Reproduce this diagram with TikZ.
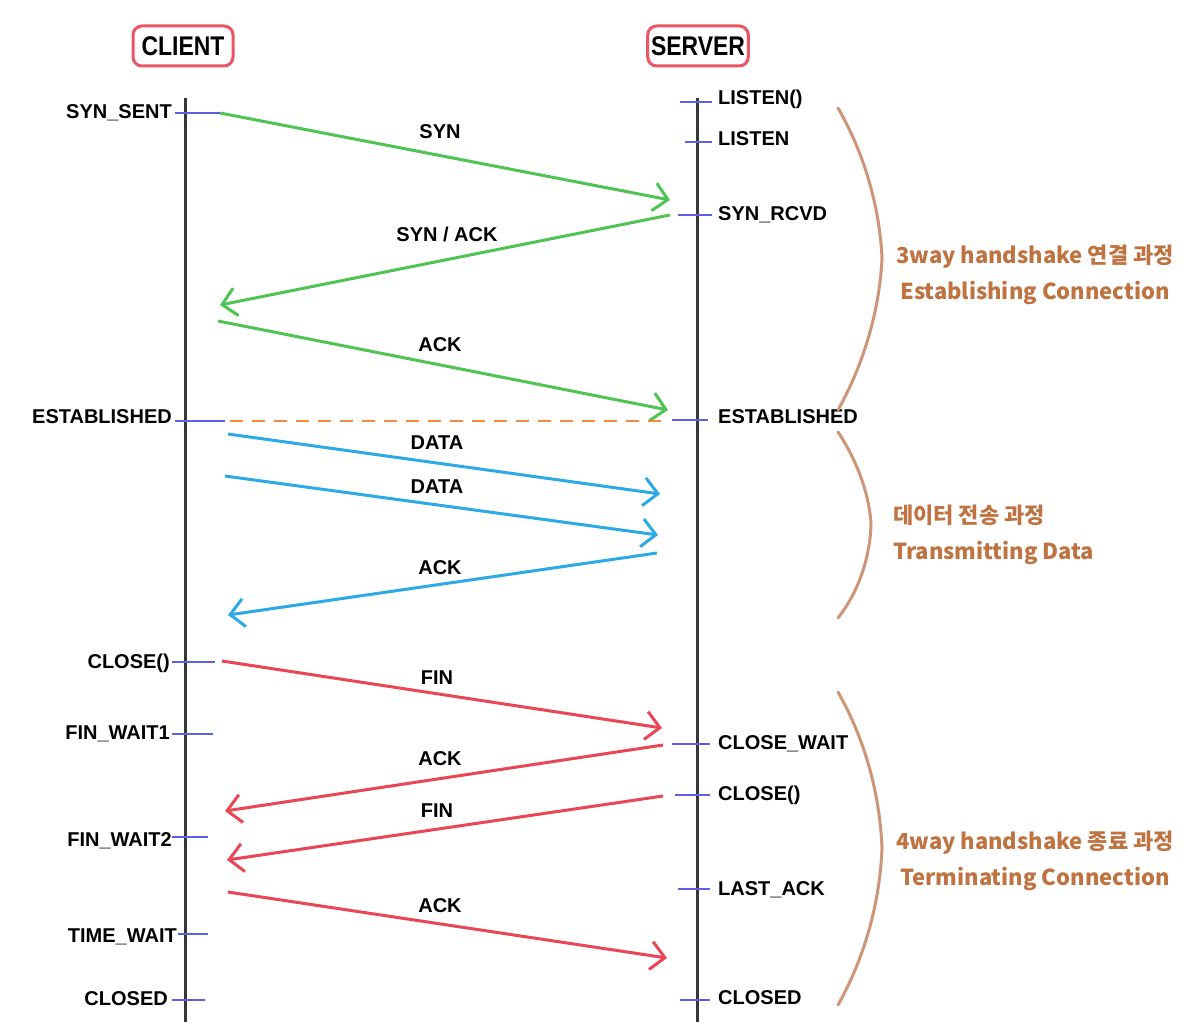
\documentclass[tikz,border=0pt]{standalone}
\usepackage{fontspec}
\setmainfont{Liberation Sans}
\newfontfamily\kr{Noto Sans CJK KR}
\newfontfamily\hdr[FakeStretch=0.85]{Liberation Sans}
\usetikzlibrary{arrows.meta}
\definecolor{lifegray}{RGB}{55,55,55}
\definecolor{tickblue}{RGB}{95,95,225}
\definecolor{msggreen}{RGB}{80,195,85}
\definecolor{msgblue}{RGB}{45,170,230}
\definecolor{msgred}{RGB}{235,70,85}
\definecolor{estorange}{RGB}{245,140,60}
\definecolor{hdrred}{RGB}{235,85,100}
\definecolor{bracebrown}{RGB}{205,150,120}
\definecolor{notebrown}{RGB}{190,115,65}
\begin{document}
\begin{tikzpicture}[x=1pt,y=-1pt,
  lbl/.style={font=\bfseries\fontsize{20}{24}\selectfont, inner sep=0pt, yshift=-5pt},
  stateL/.style={lbl, anchor=mid east},
  stateR/.style={lbl, anchor=mid west},
  msglbl/.style={lbl, anchor=mid},
  hdrbox/.style={draw=hdrred, line width=3pt, rounded corners=9pt, minimum width=100pt, minimum height=40pt, font=\hdr\bfseries\fontsize{27}{30}\selectfont},
  lifeline/.style={draw=lifegray, line width=3pt},
  tickmark/.style={draw=tickblue, line width=2.5pt},
  msg/.style={line width=3pt, -{Straight Barb[length=14pt,width=28pt]}},
  brace/.style={draw=bracebrown, line width=3pt, line cap=round},
  note/.style={font=\kr\bfseries\fontsize{22}{36}\selectfont, text=notebrown, inner sep=0pt}
]
\useasboundingbox[fill=white] (0,0) rectangle (1182,1022);

% headers
\node[hdrbox] (client) at (183,46) {CLIENT};
\node[hdrbox] (server) at (698,46) {SERVER};

% lifelines
\coordinate (ctop) at (185,98);
\coordinate (cbot) at (185,1022);
\coordinate (stop) at (697,98);
\coordinate (sbot) at (697,1022);
\draw[lifeline] (ctop) -- (cbot);
\draw[lifeline] (stop) -- (sbot);

% client states
\node[stateL] (synsent) at (172,111) {SYN\_SENT};
\node[stateL] (cest) at (172,416) {ESTABLISHED};
\node[stateL] (cclose) at (170,661) {CLOSE()};
\node[stateL] (fw1) at (170,732) {FIN\_WAIT1};
\node[stateL] (fw2) at (172,839) {FIN\_WAIT2};
\node[stateL] (tw) at (177,935) {TIME\_WAIT};
\node[stateL] (cclosed) at (168,998) {CLOSED};
\draw[tickmark] (175,113) -- (220,113);
\draw[tickmark] (175,421) -- (225,421);
\draw[tickmark] (172,662) -- (215,662);
\draw[tickmark] (172,734) -- (213,734);
\draw[tickmark] (172,837) -- (208,837);
\draw[tickmark] (178,934) -- (208,934);
\draw[tickmark] (172,1000) -- (205,1000);

% server states
\node[stateR] (listenf) at (718,97) {LISTEN()};
\node[stateR] (listen) at (718,138) {LISTEN};
\node[stateR] (synrcvd) at (718,213) {SYN\_RCVD};
\node[stateR] (sest) at (718,416) {ESTABLISHED};
\node[stateR] (closewait) at (718,742) {CLOSE\_WAIT};
\node[stateR] (sclose) at (718,793) {CLOSE()};
\node[stateR] (lastack) at (718,888) {LAST\_ACK};
\node[stateR] (sclosed) at (718,997) {CLOSED};
\draw[tickmark] (680,102) -- (712,102);
\draw[tickmark] (685,142) -- (712,142);
\draw[tickmark] (678,215) -- (712,215);
\draw[tickmark] (672,420) -- (708,420);
\draw[tickmark] (672,744) -- (710,744);
\draw[tickmark] (675,795) -- (710,795);
\draw[tickmark] (678,889) -- (710,889);
\draw[tickmark] (680,1000) -- (710,1000);

% message end points
\coordinate (m1a) at (220,113); \coordinate (m1b) at (670,200);
\coordinate (m2a) at (670,215); \coordinate (m2b) at (220,305);
\coordinate (m3a) at (218,321); \coordinate (m3b) at (668,410);
\coordinate (e1a) at (230,421); \coordinate (e1b) at (666,421);
\coordinate (d1a) at (228,434); \coordinate (d1b) at (660,494);
\coordinate (d2a) at (225,476); \coordinate (d2b) at (658,535);
\coordinate (d3a) at (657,553); \coordinate (d3b) at (228,615);
\coordinate (f1a) at (222,661); \coordinate (f1b) at (662,728);
\coordinate (f2a) at (663,745); \coordinate (f2b) at (225,811);
\coordinate (f3a) at (663,796); \coordinate (f3b) at (227,860);
\coordinate (f4a) at (228,892); \coordinate (f4b) at (667,958);

\draw[msg, draw=msggreen] (m1a) -- (m1b);
\draw[msg, draw=msggreen] (m2a) -- (m2b);
\draw[msg, draw=msggreen] (m3a) -- (m3b);
\draw[draw=estorange, line width=2.5pt, dash pattern=on 13pt off 9pt] (e1a) -- (e1b);
\draw[msg, draw=msgblue] (d1a) -- (d1b);
\draw[msg, draw=msgblue] (d2a) -- (d2b);
\draw[msg, draw=msgblue] (d3a) -- (d3b);
\draw[msg, draw=msgred] (f1a) -- (f1b);
\draw[msg, draw=msgred] (f2a) -- (f2b);
\draw[msg, draw=msgred] (f3a) -- (f3b);
\draw[msg, draw=msgred] (f4a) -- (f4b);

\node[msglbl] (l1) at (440,131) {SYN};
\node[msglbl] (l2) at (447,234) {SYN / ACK};
\node[msglbl] (l3) at (440,344) {ACK};
\node[msglbl] (l4) at (437,442) {DATA};
\node[msglbl] (l5) at (437,486) {DATA};
\node[msglbl] (l6) at (440,567) {ACK};
\node[msglbl] (l7) at (437,677) {FIN};
\node[msglbl] (l8) at (440,758) {ACK};
\node[msglbl] (l9) at (437,810) {FIN};
\node[msglbl] (l10) at (440,905) {ACK};

% braces
\draw[brace] (838,108) .. controls (868,160) and (880,215) .. (882,258)
  .. controls (880,305) and (866,360) .. (838,410);
\draw[brace] (838,432) .. controls (860,465) and (870,500) .. (871,525)
  .. controls (870,555) and (860,590) .. (838,618);
\draw[brace] (838,692) .. controls (868,745) and (880,800) .. (882,848)
  .. controls (880,900) and (866,955) .. (838,1005);

\node[note, align=center] (n1) at (1035,275) {3way handshake 연결 과정\\Establishing Connection};
\node[note, align=left, anchor=west] (n2) at (893,535) {데이터 전송 과정\\Transmitting Data};
\node[note, align=center] (n3) at (1035,861) {4way handshake 종료 과정\\Terminating Connection};
\end{tikzpicture}
\end{document}
